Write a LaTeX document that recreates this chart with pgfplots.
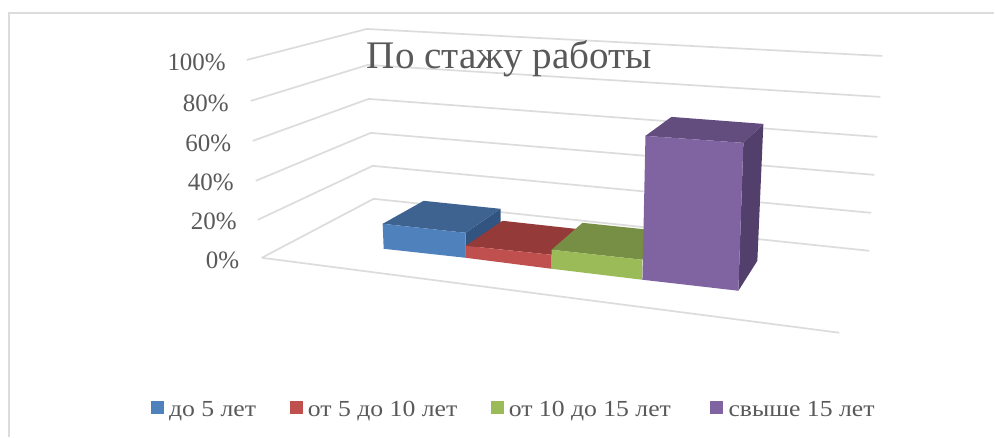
\documentclass[border=0pt]{standalone}
\usepackage{pgfplots}
\pgfplotsset{compat=1.18}
\usepackage{fontspec}
\setmainfont{Liberation Serif}
\newfontfamily\legf[FakeStretch=1.118]{Liberation Serif}
\definecolor{txt}{HTML}{595959}
\definecolor{gridc}{HTML}{DCDCDC}
\definecolor{bf}{HTML}{4F81BD}\definecolor{bt}{HTML}{3F6391}\definecolor{bs}{HTML}{325480}
\definecolor{rf}{HTML}{C0504D}\definecolor{rt}{HTML}{943A38}
\definecolor{gf}{HTML}{9BBB59}\definecolor{gt}{HTML}{778F45}
\definecolor{pf}{HTML}{8064A2}\definecolor{pt}{HTML}{634D7E}\definecolor{ps}{HTML}{533F6B}
\newcommand\face[2]{\addplot[fill=#1,draw=none,forget plot] coordinates {#2} --cycle;}
\newcommand\gl[1]{\addplot[gridc,line width=1.7pt,forget plot] coordinates {#1};}
\newcommand\tick[3]{\node[anchor=base east,text=txt,font=\fontsize{25}{30}\selectfont] at (axis cs:#1,#2) {#3};}
\newcommand\leg[2]{\node[anchor=base west,text=txt,inner sep=0pt,font=\legf\fontsize{23}{26}\selectfont] at (axis cs:#1,417) {#2};}
\begin{document}
\begin{tikzpicture}
\begin{axis}[
  scale only axis, width=995pt, height=437pt,
  xmin=0, xmax=995, ymin=0, ymax=437, y dir=reverse,
  axis lines=none, clip=false, no markers,
  enlargelimits=false]
% page background: keeps the picture at the reference's full extent
\face{white}{(0,0)(995,0)(995,437)(0,437)}
% outer frame
\gl{(9,437)(9,13)(995,13)}
% walls and floor: percent gridlines 100,80,60,40,20,0
\gl{(247,60)(367,29)(883,56)}
\gl{(251,101)(368,65)(881,97)}
\gl{(253,141)(369,99)(878,137)}
\gl{(256,181)(371,133)(875,175)}
\gl{(258,220)(373,166)(872,213)}
\gl{(262,258)(374,199)(870,251)}
\gl{(262,258)(840,333)}
% до 5 лет
\face{bs}{(466,233)(501,209)(501,233)(466,258)}
\face{bt}{(383,224)(424,201)(501,209)(466,233)}
\face{bf}{(383,224)(466,233)(466,258)(384,249)}
% от 5 до 10 лет
\face{rt}{(466,246)(503,221)(576,229)(552,255)}
\face{rf}{(466,246)(552,255)(552,269)(466,258)}
% от 10 до 15 лет
\face{gt}{(552,250)(583,223)(650,230)(643,260)}
\face{gf}{(552,250)(643,260)(643,280)(552,269)}
% свыше 15 лет
\face{ps}{(744,143)(764,124)(758,261)(739,291)}
\face{pt}{(646,136)(672,117)(764,124)(744,143)}
\face{pf}{(646,136)(744,143)(739,291)(643,280)}
% legend swatches
\face{bf}{(151,401)(164,401)(164,414)(151,414)}
\face{rf}{(290,401)(303,401)(303,414)(290,414)}
\face{gf}{(491,401)(504,401)(504,414)(491,414)}
\face{pf}{(711,401)(724,401)(724,414)(711,414)}
\tick{229.5}{71}{100\%}
\tick{232.5}{112}{80\%}
\tick{235}{152}{60\%}
\tick{237.5}{191}{40\%}
\tick{240.5}{230}{20\%}
\tick{243}{268.5}{0\%}
\node[anchor=base west,inner sep=0pt,text=txt,font=\fontsize{39.1}{44}\selectfont] at (axis cs:367,69) {По стажу работы};
\leg{169}{до 5 лет}
\leg{308}{от 5 до 10 лет}
\leg{509}{от 10 до 15 лет}
\leg{729}{свыше 15 лет}
\end{axis}
\end{tikzpicture}
\end{document}
